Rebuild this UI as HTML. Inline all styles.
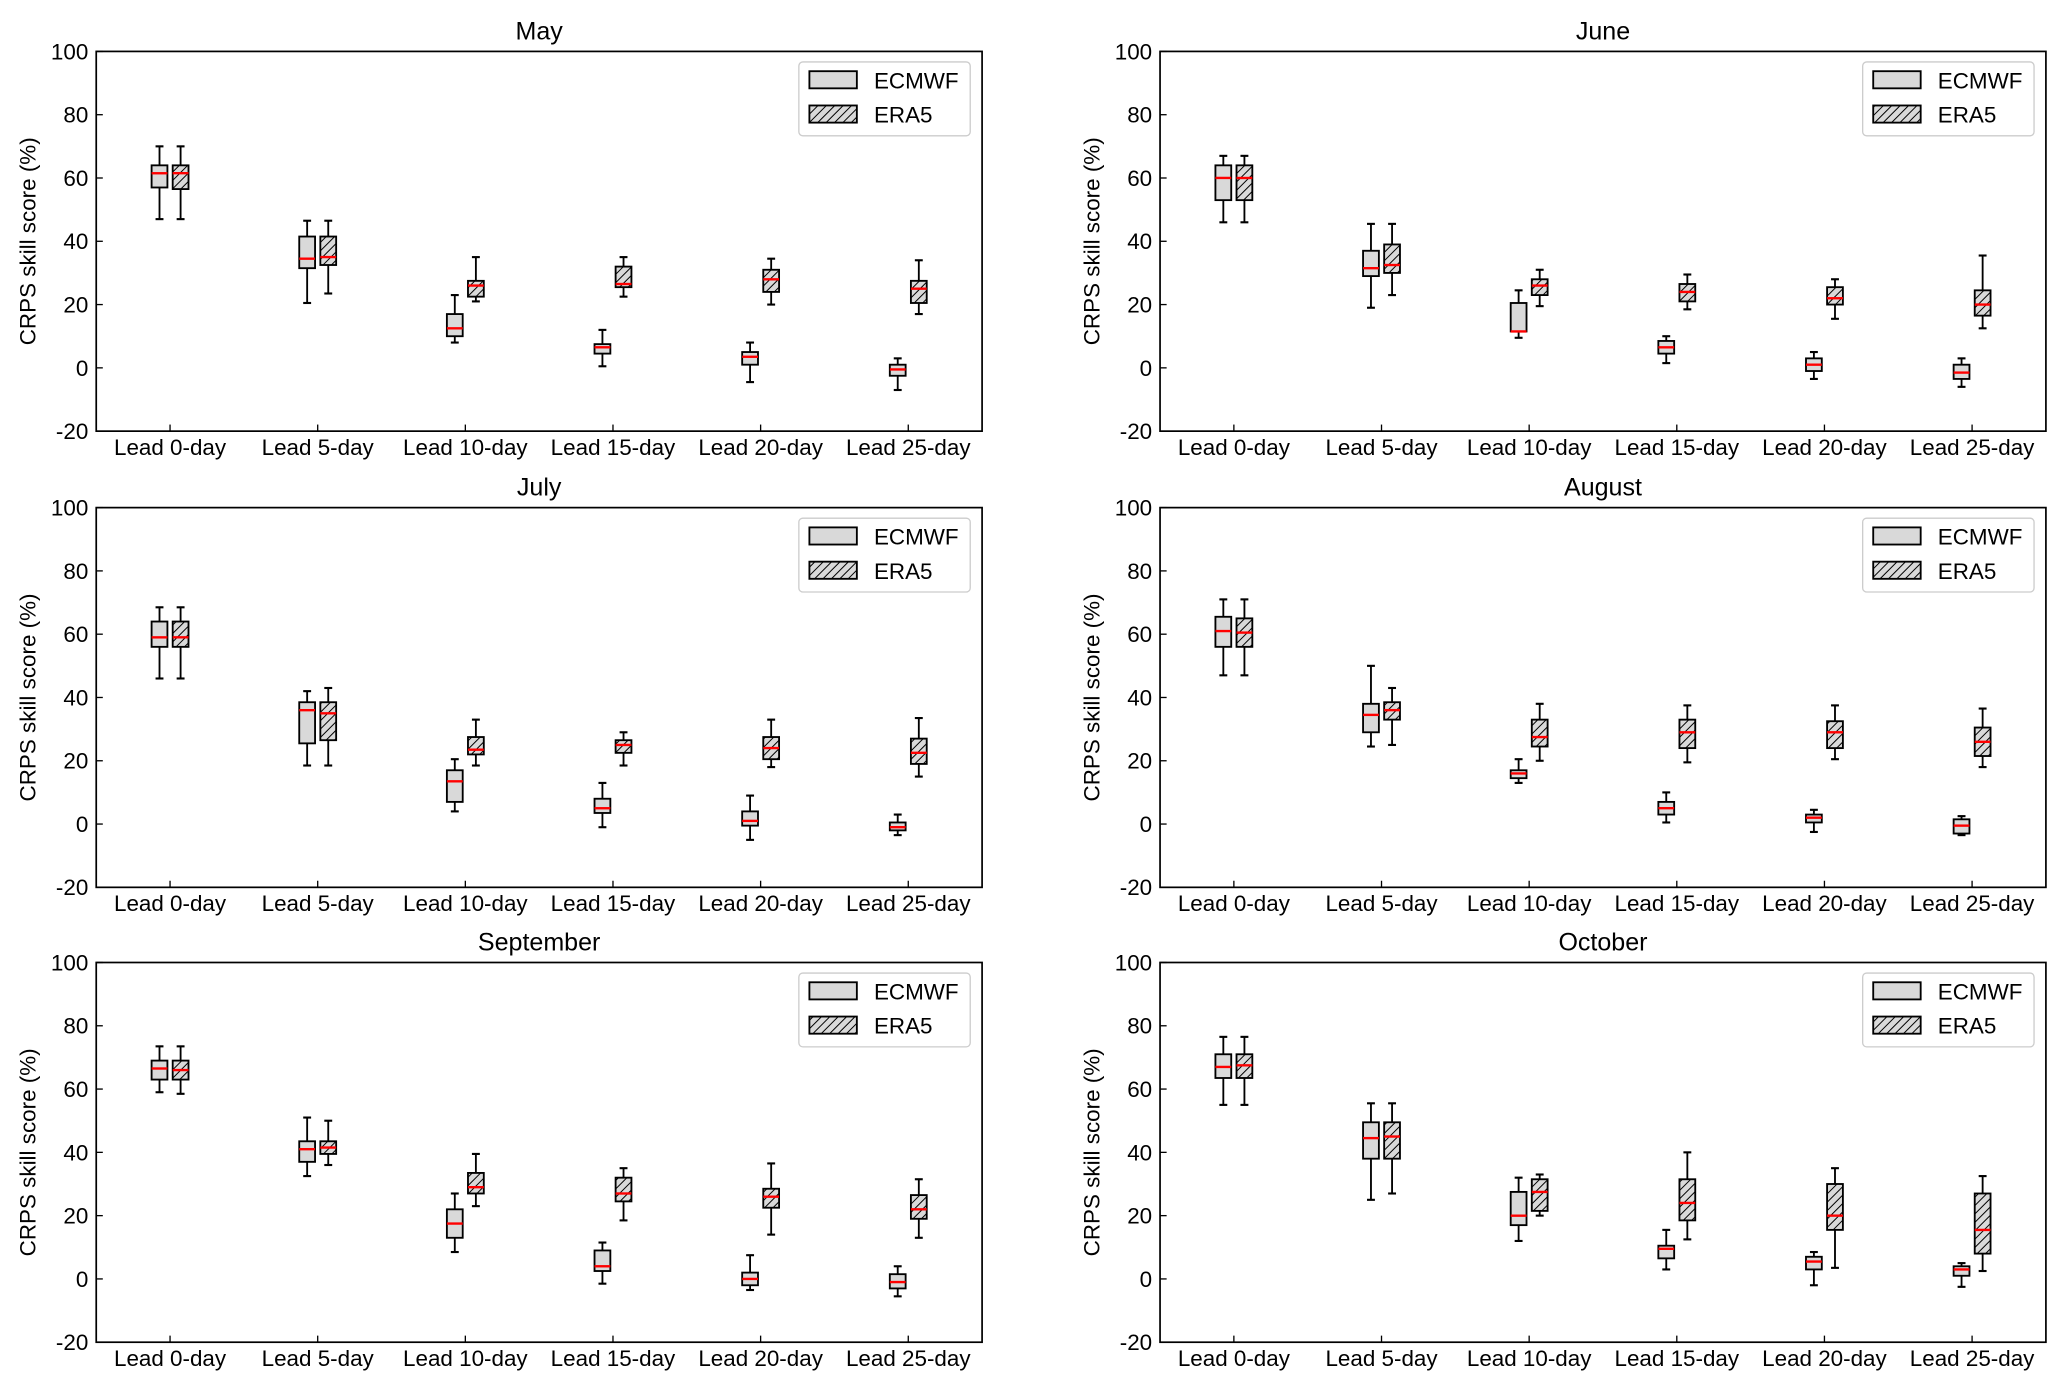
<!DOCTYPE html>
<html><head><meta charset="utf-8"><style>
html,body{margin:0;padding:0;background:#fff}
svg{display:block}
text{font-family:"Liberation Sans",Arial,sans-serif;fill:#000}
</style></head><body>
<svg id="chart" width="2067" height="1391" viewBox="0 0 1568 1055" preserveAspectRatio="none" xmlns="http://www.w3.org/2000/svg">
<defs>
<pattern id="hatch" patternUnits="userSpaceOnUse" width="4.5" height="4.5" patternTransform="rotate(45)">
<rect width="4.5" height="4.5" fill="#d9d9d9"/><line x1="0" y1="0" x2="0" y2="4.5" stroke="#000" stroke-width="1.5"/>
</pattern>
</defs>
</svg>
<script>
const months = ["May","June","July","August","September","October"];
const leads = ["Lead 0-day","Lead 5-day","Lead 10-day","Lead 15-day","Lead 20-day","Lead 25-day"];
const yTicks = [-20,0,20,40,60,80,100];
const seriesNames = ["ECMWF","ERA5"];
// [whisker low, q1, median, q3, whisker high]
const ecmwfMay = [[47,57,61.5,64,70],[20.5,31.5,34.5,41.5,46.5],[8,10,12.5,17,23],[0.5,4.5,6.5,7.5,12],[-4.5,1,3.5,5,8],[-7,-2.5,-0.5,1,3]];
const era5May = [[47,56.5,61.5,64,70],[23.5,32.5,35,41.5,46.5],[21,22.5,26,27.5,35],[22.5,25.5,26.5,32,35],[20,24,28,31,34.5],[17,20.5,25,27.5,34]];
const ecmwfJun = [[46,53,60,64,67],[19,29,31.5,37,45.5],[9.5,11.5,11.5,20.5,24.5],[1.5,4.5,6.5,8.5,10],[-3.5,-1,1,3,5],[-6,-3.5,-1.5,1,3]];
const era5Jun = [[46,53,60,64,67],[23,30,32.5,39,45.5],[19.5,23,26,28,31],[18.5,21,24,26.5,29.5],[15.5,20,22,25.5,28],[12.5,16.5,20,24.5,35.5]];
const ecmwfJul = [[46,56,59,64,68.5],[18.5,25.5,36,38.5,42],[4,7,13.5,17,20.5],[-1,3.5,5,8,13],[-5,-0.5,1,4,9],[-3.5,-2,-1,0.5,3]];
const era5Jul = [[46,56,59,64,68.5],[18.5,26.5,35,38.5,43],[18.5,22,23.5,27.5,33],[18.5,22.5,25,26.5,29],[18,20.5,24,27.5,33],[15,19,22.5,27,33.5]];
const ecmwfAug = [[47,56,61,65.5,71],[24.5,29,34.5,38,50],[13,14.5,16,17,20.5],[0.5,3,5,7,10],[-2.5,0.5,2,3,4.5],[-3.5,-3,-0.5,1.5,2.5]];
const era5Aug = [[47,56,60.5,65,71],[25,33,36,38.5,43],[20,24.5,27.5,33,38],[19.5,24,29,33,37.5],[20.5,24,29,32.5,37.5],[18,21.5,26,30.5,36.5]];
const ecmwfSep = [[59,63,66.5,69,73.5],[32.5,37,41,43.5,51],[8.5,13,17.5,22,27],[-1.5,2.5,4,9,11.5],[-3.5,-2,0,2,7.5],[-5.5,-3,-1,1.5,4]];
const era5Sep = [[58.5,63,66,69,73.5],[36,39.5,41.5,43.5,50],[23,27,29,33.5,39.5],[18.5,24.5,27,32,35],[14,22.5,26,28.5,36.5],[13,19,22,26.5,31.5]];
const ecmwfOct = [[55,63.5,67,71,76.5],[25,38,44.5,49.5,55.5],[12,17,20,27.5,32],[3,6.5,9.5,10.5,15.5],[-2,3,5.5,7,8.5],[-2.5,1,3,4,5]];
const era5Oct = [[55,63.5,67.5,71,76.5],[27,38,45,49.5,55.5],[20,21.5,27.5,31.5,33],[12.5,18.5,24,31.5,40],[3.5,15.5,20,30,35],[2.5,8,15.5,27,32.5]];
const ecmwfAll = [ecmwfMay,ecmwfJun,ecmwfJul,ecmwfAug,ecmwfSep,ecmwfOct];
const era5All = [era5May,era5Jun,era5Jul,era5Aug,era5Sep,era5Oct];

const NS="http://www.w3.org/2000/svg";
const svg=document.getElementById('chart');
function mk(tag,attrs,parent){const e=document.createElementNS(NS,tag);for(const k in attrs)e.setAttribute(k,attrs[k]);(parent||svg).appendChild(e);return e;}
const lefts=[73,880], tops=[39,385,730], W=672, H=288;
months.forEach((m,pi)=>{
  const L=lefts[pi%2], T=tops[Math.floor(pi/2)];
  const g=mk('g',{});
  
  
  const yS=v=>T+H-(v+20)/120*H;
  const xS=i=>L+(i+0.5)*W/6;
  const t=mk('text',{x:L+W/2,y:T-9,'text-anchor':'middle','font-size':19},g);t.textContent=m;
  
  
  const yl=mk('text',{x:0,y:0,'text-anchor':'middle','font-size':17,transform:`translate(${L-46},${T+H/2}) rotate(-90)`},g);yl.textContent="CRPS skill score (%)";
  
  
  yTicks.forEach(v=>{
    mk('line',{x1:L,x2:L+5,y1:yS(v),y2:yS(v),stroke:'#000','stroke-width':1},g);
    const tt=mk('text',{x:L-6,y:yS(v)+6,'text-anchor':'end','font-size':17},g);tt.textContent=v;
    
    
  });
  leads.forEach((ld,i)=>{
    mk('line',{x1:xS(i),x2:xS(i),y1:T+H,y2:T+H-5,stroke:'#000','stroke-width':1},g);
    const tt=mk('text',{x:xS(i),y:T+H+18,'text-anchor':'middle','font-size':17},g);tt.textContent=ld;
    
    
    [ecmwfAll[pi][i],era5All[pi][i]].forEach((d,si)=>{
      const cx=xS(i)+(si?8:-8), hw=6;
      const bg=mk('g',{},g);
      
      
      mk('line',{x1:cx,x2:cx,y1:yS(d[0]),y2:yS(d[1]),stroke:'#000','stroke-width':1.4},bg);
      mk('line',{x1:cx,x2:cx,y1:yS(d[3]),y2:yS(d[4]),stroke:'#000','stroke-width':1.4},bg);
      mk('line',{x1:cx-3,x2:cx+3,y1:yS(d[0]),y2:yS(d[0]),stroke:'#000','stroke-width':1.6},bg);
      mk('line',{x1:cx-3,x2:cx+3,y1:yS(d[4]),y2:yS(d[4]),stroke:'#000','stroke-width':1.6},bg);
      mk('rect',{x:cx-hw,y:yS(d[3]),width:2*hw,height:Math.max(1,yS(d[1])-yS(d[3])),fill:si?'url(#hatch)':'#d9d9d9',stroke:'#000','stroke-width':1.4},bg);
      mk('line',{x1:cx-hw,x2:cx+hw,y1:yS(d[2]),y2:yS(d[2]),stroke:'#ff0000','stroke-width':1.8},bg);
    });
  });
  const fr=mk('rect',{x:L,y:T,width:W,height:H,fill:'none',stroke:'#000','stroke-width':1.3},g);
  
  
  const lg=mk('g',{},g);
  
  
  mk('rect',{x:L+533,y:T+8,width:130,height:56,rx:3,fill:'#fff',stroke:'#ccc','stroke-width':1},lg);
  seriesNames.forEach((s,si)=>{
    mk('rect',{x:L+541,y:T+15+si*26,width:36,height:13,fill:si?'url(#hatch)':'#d9d9d9',stroke:'#000','stroke-width':1.4},lg);
    const lt=mk('text',{x:L+590,y:T+28+si*26,'font-size':17},lg);lt.textContent=s;
    
    
  });
});
</script>
</body></html>
